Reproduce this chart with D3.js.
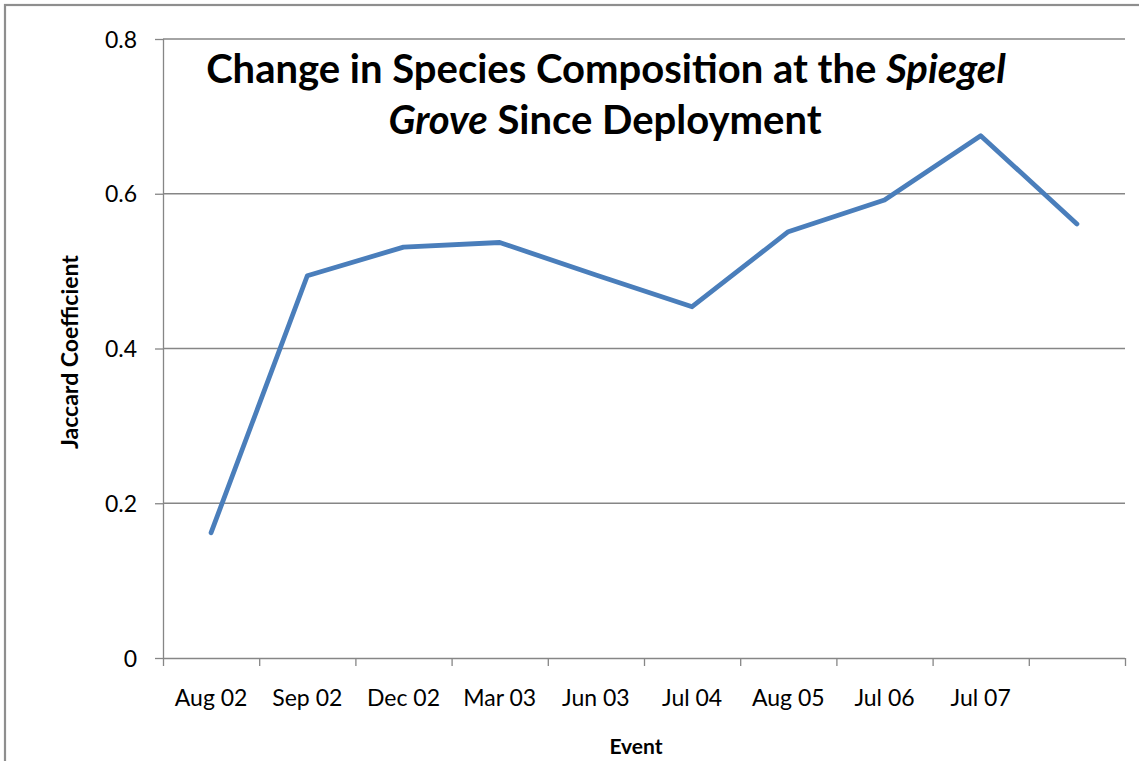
<!DOCTYPE html>
<html>
<head>
<meta charset="utf-8">
<script src="https://cdn.jsdelivr.net/npm/d3@7"></script>
<style>
  html, body { margin: 0; padding: 0; background: #fff; }
  svg { display: block; }
  text { font-family: Lato, "Open Sans", sans-serif; fill: #000; }
</style>
</head>
<body>
<svg id="chart" width="1139" height="761"></svg>
<script>
// Sampling events (the last survey has no label on the axis)
const events = ["Aug 02", "Sep 02", "Dec 02", "Mar 03", "Jun 03", "Jul 04", "Aug 05", "Jul 06", "Jul 07", ""];
// Jaccard similarity coefficient at each event
const jaccard = [0.162, 0.494, 0.531, 0.537, 0.495, 0.454, 0.551, 0.592, 0.675, 0.561];
const yTicks = [0, 0.2, 0.4, 0.6, 0.8];

const svg = d3.select("#chart");
const W = 1139, H = 761;
const plot = { left: 163, right: 1125, top: 39, bottom: 658 };

// Outer chart frame
svg.append("rect")
  .attr("x", 5).attr("y", 5)
  .attr("width", W + 40).attr("height", H + 40)
  .attr("fill", "#fff")
  .attr("stroke", "#8e8e8e")
  .attr("stroke-width", 2.2);

const idx = d3.range(events.length);
const x = d3.scaleBand().domain(idx).range([plot.left, plot.right]).padding(0);
const xEdges = d3.scaleLinear().domain([0, events.length]).range([plot.left, plot.right]);
const y = d3.scaleLinear().domain([0, 0.8]).range([plot.bottom, plot.top]);

const axisColor = "#868686";

// Horizontal gridlines
svg.append("g")
  .selectAll("line")
  .data(yTicks.filter(d => d > 0))
  .join("line")
  .attr("x1", plot.left).attr("x2", plot.right)
  .attr("y1", d => y(d)).attr("y2", d => y(d))
  .attr("stroke", axisColor)
  .attr("stroke-width", 1.3);

// Y axis
const yAxis = svg.append("g")
  .attr("transform", `translate(${plot.left},0)`)
  .call(d3.axisLeft(y).tickValues(yTicks).tickSize(8).tickPadding(18)
    .tickFormat(d => d === 0 ? "0" : d3.format(".1f")(d)));
yAxis.select(".domain").attr("stroke", axisColor).attr("stroke-width", 1.3)
  .attr("d", `M0.5,${plot.top}V${plot.bottom}`);
yAxis.selectAll(".tick line").attr("stroke", axisColor).attr("stroke-width", 1.3);
yAxis.selectAll(".tick text")
  .style("font-family", "Lato, sans-serif")
  .style("font-size", "23px")
  .attr("dy", "0.35em");

// X axis: tick marks at category boundaries
const xAxis = svg.append("g")
  .attr("transform", `translate(0,${plot.bottom})`)
  .call(d3.axisBottom(xEdges).tickValues(d3.range(events.length + 1)).tickSize(8).tickFormat(""));
xAxis.select(".domain").attr("stroke", axisColor).attr("stroke-width", 1.3)
  .attr("d", `M${plot.left},0.5H${plot.right}`);
xAxis.selectAll(".tick line").attr("stroke", axisColor).attr("stroke-width", 1.3);

// X axis: category labels centred in each band
const xLabels = svg.append("g")
  .attr("transform", `translate(0,${plot.bottom})`)
  .call(d3.axisBottom(x).tickSize(0).tickPadding(32).tickFormat(i => events[i]));
xLabels.select(".domain").remove();
xLabels.selectAll(".tick text")
  .style("font-family", "Lato, sans-serif")
  .style("font-size", "23px");

// Data line
const line = d3.line()
  .x((d, i) => x(i) + x.bandwidth() / 2)
  .y(d => y(d));
svg.append("path")
  .datum(jaccard)
  .attr("d", line)
  .attr("fill", "none")
  .attr("stroke", "#4a7ebb")
  .attr("stroke-width", 4.8)
  .attr("stroke-linejoin", "round")
  .attr("stroke-linecap", "round");

// Title
const title = svg.append("text")
  .attr("text-anchor", "middle")
  .style("font-family", "Lato, sans-serif")
  .style("font-size", "40px")
  .style("font-weight", "bold");
const t1 = title.append("tspan").attr("x", 606).attr("y", 83);
t1.append("tspan").text("Change in Species Composition at the ");
t1.append("tspan").style("font-style", "italic").text("Spiegel");
const t2 = title.append("tspan").attr("x", 605).attr("y", 134);
t2.append("tspan").style("font-style", "italic").text("Grove");
t2.append("tspan").text(" Since Deployment");

// Axis titles
svg.append("text")
  .attr("transform", "translate(78,352) rotate(-90)")
  .attr("text-anchor", "middle")
  .style("font-family", "Lato, sans-serif")
  .style("font-size", "23px")
  .style("font-weight", "bold")
  .text("Jaccard Coefficient");

svg.append("text")
  .attr("x", 636).attr("y", 754)
  .attr("text-anchor", "middle")
  .style("font-family", "Lato, sans-serif")
  .style("font-size", "21px")
  .style("font-weight", "bold")
  .text("Event");
</script>
</body>
</html>
